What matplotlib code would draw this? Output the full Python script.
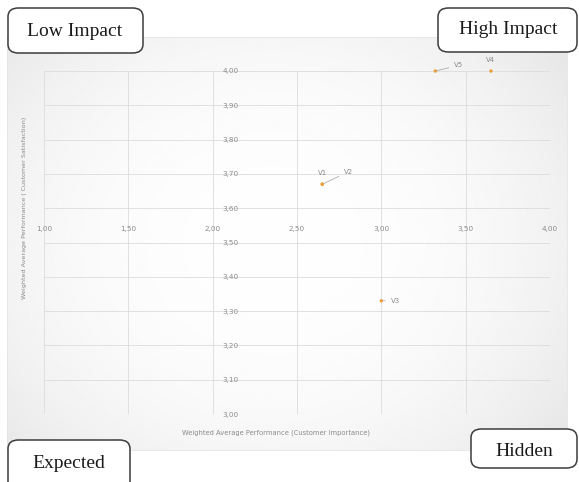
import matplotlib.pyplot as plt
import numpy as np
from matplotlib.patches import FancyBboxPatch, Rectangle
from matplotlib.ticker import FuncFormatter, MultipleLocator

# Importance-performance values per attribute
names = ["V1", "V2", "V3", "V4", "V5"]
importance = [2.65, 2.65, 3.00, 3.65, 3.32]
satisfaction = [3.67, 3.67, 3.33, 4.00, 4.00]

quadrants = ["Low Impact", "High Impact", "Expected", "Hidden"]

# label offsets (points) and whether a leader line is drawn
LABEL_POS = {
    "V1": ((0, 8), False),
    "V2": ((19, 9), True),
    "V3": ((10, 0), True),
    "V4": ((0, 8), False),
    "V5": ((17, 4), True),
}

C_GRID = "#dcdcdc"
C_TEXT = "#8a8a8a"
C_POINT = "#ee9c35"

W, H = 579, 482


def px_box(x0, y0, x1, y1):
    """Pixel box (top-left origin) -> figure fraction [l, b, w, h]."""
    return [x0 / W, 1 - y1 / H, (x1 - x0) / W, (y1 - y0) / H]


def comma_fmt(v, _pos):
    return f"{v:.2f}".replace(".", ",")


fig = plt.figure(figsize=(W / 100, H / 100), dpi=100)

# chart area with soft radial shading
bg = fig.add_axes(px_box(7, 37, 567, 450), zorder=0)
gx, gy = np.meshgrid(np.linspace(-1, 1, 400), np.linspace(-1, 1, 300))
r = np.sqrt(((gx + 0.05) / 1.1) ** 2 + (gy / 1.3) ** 2)
shade = 0.995 - 0.06 * np.clip(r, 0, 1.3) ** 2.5
bg.imshow(shade, cmap="gray", vmin=0, vmax=1, aspect="auto",
          extent=(0, 1, 0, 1), interpolation="bilinear")
bg.set_axis_off()
fig.add_artist(Rectangle((7 / W, 1 - 450 / H), 560 / W, 413 / H,
                         transform=fig.transFigure, fill=False,
                         edgecolor="#e4e4e4", linewidth=0.6, zorder=1))

ax = fig.add_axes(px_box(44, 71, 550, 414), zorder=2)
ax.set_facecolor("none")
ax.set_xlim(1.0, 4.0)
ax.set_ylim(3.0, 4.0)
ax.xaxis.set_major_locator(MultipleLocator(0.5))
ax.yaxis.set_major_locator(MultipleLocator(0.1))
ax.xaxis.set_major_formatter(FuncFormatter(comma_fmt))
ax.yaxis.set_major_formatter(FuncFormatter(comma_fmt))
ax.grid(True, color=C_GRID, linewidth=0.6)
ax.set_axisbelow(True)

# axes cross inside the plot: value axis at x=2, category axis near y=3.55
for side in ("left", "top"):
    ax.spines[side].set_visible(False)
ax.spines["right"].set_position(("data", 2.0))
ax.spines["bottom"].set_position(("data", 3.555))
ax.spines["right"].set_color("none")
ax.spines["bottom"].set_color("none")
ax.yaxis.tick_right()
ax.tick_params(axis="both", length=0, labelsize=5.2, labelcolor=C_TEXT)
ax.tick_params(axis="y", pad=7)
ax.tick_params(axis="x", pad=2)

ax.scatter(importance, satisfaction, s=6, color=C_POINT, zorder=5,
           edgecolor="none", clip_on=False)
for n, x, y in zip(names, importance, satisfaction):
    off, leader = LABEL_POS[n]
    ax.annotate(n, xy=(x, y), xytext=off, textcoords="offset points",
                ha="center", va="center", fontsize=5, color=C_TEXT,
                arrowprops=dict(arrowstyle="-", color="#a0a0a0", lw=0.5,
                                shrinkA=2, shrinkB=1) if leader else None,
                zorder=6, annotation_clip=False)

fig.text(276 / W, 1 - 433 / H,
         "Weighted Average Performance (Customer Importance)",
         ha="center", va="center", fontsize=4.9, color=C_TEXT, zorder=3)
fig.text(25 / W, 1 - 208 / H,
         "Weighted Average Performance ( Customer Satisfaction)",
         ha="center", va="center", rotation=90, fontsize=4.6,
         color=C_TEXT, zorder=3)

# quadrant call-out boxes
boxes = [(8, 8, 143, 53), (438, 8, 577, 52), (8, 440, 130, 492),
         (471, 429, 577, 468)]
centers = [(75, 31), (508, 30), (69, 463), (524, 452)]
for label, (x0, y0, x1, y1), (cx, cy) in zip(quadrants, boxes, centers):
    l, b, w, h = px_box(x0, y0, x1, y1)
    fig.add_artist(FancyBboxPatch((l, b), w, h, transform=fig.transFigure,
                                  boxstyle="round,pad=0,rounding_size=0.018",
                                  facecolor="white", edgecolor="#3c3c3c",
                                  linewidth=1.1, zorder=10))
    fig.text(cx / W, 1 - cy / H, label, ha="center", va="center",
             fontsize=14, family="Liberation Serif", color="#1a1a1a",
             zorder=11)

fig.savefig("out.png", dpi=100)
